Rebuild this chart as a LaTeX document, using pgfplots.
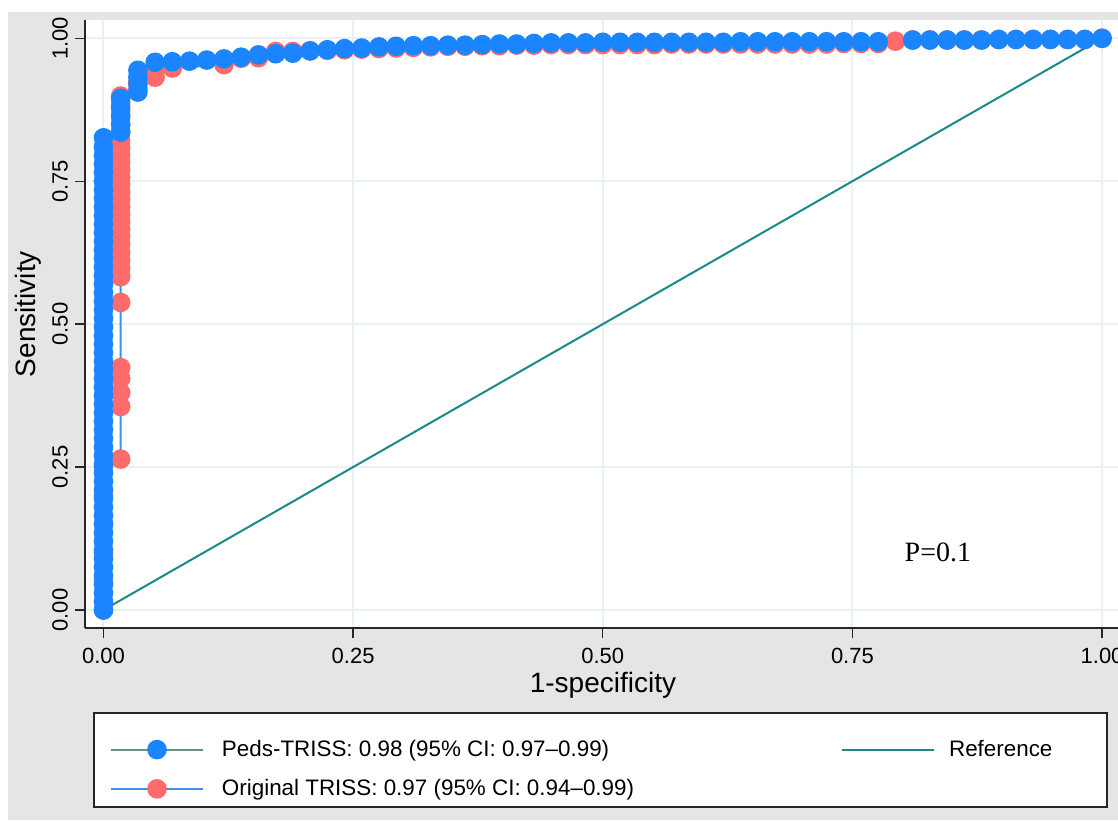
\documentclass[border=0pt]{standalone}
\usepackage{pgfplots}
\pgfplotsset{compat=1.18}
\usepackage{fontspec}
\setmainfont{Liberation Sans}
\newfontfamily\timesfont{Liberation Serif}
\definecolor{bggray}{HTML}{E5E5E5}
\definecolor{gridc}{HTML}{EAF1F3}
\definecolor{bluem}{HTML}{1A85FF}
\definecolor{redm}{HTML}{FF6B6B}
\definecolor{pedsline}{HTML}{6A8E7F}
\definecolor{origline}{HTML}{3A8EF5}
\definecolor{refline}{HTML}{1B8A86}
\definecolor{axc}{HTML}{262626}
\pgfplotsset{
  linemarkimg/.style={legend image code/.code={\draw[mark repeat=2,mark phase=2,##1] plot coordinates {(0pt,0pt) (23pt,0pt) (46pt,0pt)};}},
  lineimg/.style={legend image code/.code={\draw[##1] (0pt,0pt) -- (46pt,0pt);}},
}
\begin{document}
\begin{tikzpicture}
\path[use as bounding box] (0,0) rectangle (559pt,-410pt);
\clip (0,0) rectangle (559pt,-410pt);
\fill[white] (0,0) rectangle (559pt,-410pt);
\fill[bggray] (4pt,-6pt) rectangle (559pt,-410pt);
\fill[white] (42.5pt,-10pt) rectangle (570pt,-314pt);
\draw[fill=white, draw=axc, line width=0.7pt] (47pt,-356.5pt) rectangle (553.5pt,-403.5pt);
\begin{axis}[
  at={(42.5pt,-314pt)}, anchor=south west,
  scale only axis, width=525pt, height=304pt,
  xmin=-0.0185, xmax=1.033, ymin=-0.0315, ymax=1.032,
  axis lines*=left,
  axis line style={draw=axc, line width=0.7pt},
  xtick={0,0.25,0.5,0.75,1}, xticklabels={0.00,0.25,0.50,0.75,1.00},
  ytick={0,0.25,0.5,0.75,1}, yticklabels={0.00,0.25,0.50,0.75,1.00},
  tick align=outside, major tick length=5pt,
  tick style={draw=axc, line width=0.7pt},
  grid=major, major grid style={draw=gridc, line width=1pt},
  ticklabel style={font=\fontsize{11}{13}\selectfont},
  xticklabel style={yshift=-1.5pt},
  yticklabel style={rotate=90, anchor=south},
  xlabel={1-specificity}, ylabel={Sensitivity},
  label style={font=\fontsize{14}{16}\selectfont},
  xlabel style={at={(axis description cs:0.4933,-0.09375)}, anchor=center},
  ylabel style={at={(axis description cs:-0.0543,0.5164)}, anchor=center},
  legend columns=2,
  legend cell align=left,
  legend style={draw=none, fill=none, inner sep=0pt, outer sep=0pt,
    at={(axis description cs:0.0238,-0.1776)}, anchor=north west,
    font=\fontsize{11.2}{13}\selectfont, row sep=6pt,
    /tikz/column 1/.style={column sep=7pt},
    /tikz/column 2/.style={column sep=101.5pt},
    /tikz/column 3/.style={column sep=5pt}},
  clip=false,
]
% Original TRISS (drawn first, under)
\addplot[forget plot, color=origline, line width=1pt, mark=*, mark size=4.4pt,
  mark options={draw=redm, fill=redm}] coordinates {
(0,0) (0,0.05) (0,0.10) (0,0.15) (0,0.20) (0,0.25)
(0.01724,0.264) (0.01724,0.356) (0.01724,0.380) (0.01724,0.405) (0.01724,0.424)
(0.01724,0.538) (0.01724,0.583) (0.01724,0.597) (0.01724,0.611) (0.01724,0.625)
(0.01724,0.640) (0.01724,0.653) (0.01724,0.666) (0.01724,0.679) (0.01724,0.692)
(0.01724,0.705) (0.01724,0.718) (0.01724,0.731) (0.01724,0.744) (0.01724,0.757)
(0.01724,0.770) (0.01724,0.783) (0.01724,0.796) (0.01724,0.809) (0.01724,0.822)
(0.01724,0.835) (0.01724,0.848) (0.01724,0.861) (0.01724,0.874) (0.01724,0.887)
(0.01724,0.899)
(0.03448,0.912) (0.03448,0.925)
(0.05172,0.932) (0.05172,0.945)
(0.06897,0.948)
(0.12069,0.954) (0.13793,0.965) (0.15517,0.966) (0.17241,0.977) (0.18966,0.977)
(0.2069,0.978) (0.22414,0.979) (0.24138,0.980) (0.25862,0.981) (0.27586,0.982)
(0.2931,0.983) (0.31034,0.984) (0.32759,0.985) (0.34483,0.986) (0.36207,0.986)
(0.37931,0.987) (0.39655,0.987) (0.41379,0.988) (0.43103,0.988) (0.44828,0.989)
(0.46552,0.989) (0.48276,0.989) (0.5,0.989) (0.51724,0.989) (0.53448,0.989)
(0.55172,0.989) (0.56897,0.990) (0.58621,0.990) (0.60345,0.990) (0.62069,0.990)
(0.63793,0.990) (0.65517,0.990) (0.67241,0.990) (0.68966,0.990) (0.7069,0.990)
(0.72414,0.990) (0.74138,0.991) (0.75862,0.991) (0.77586,0.991)
(0.7931,0.995)
(0.81034,0.997) (0.82759,0.997) (0.84483,0.997) (0.86207,0.997) (0.87931,0.997)
(0.89655,0.998) (0.91379,0.998) (0.93103,0.998) (0.94828,0.998) (0.96552,0.998)
(0.98276,0.998) (1,1)
};
% Peds-TRISS
\addplot[forget plot, color=pedsline, line width=1pt, mark=*, mark size=4.4pt,
  mark options={draw=bluem, fill=bluem}] coordinates {
(0,0) (0,0.015) (0,0.03) (0,0.045) (0,0.06) (0,0.075) (0,0.09) (0,0.105)
(0,0.12) (0,0.135) (0,0.15) (0,0.165) (0,0.18) (0,0.195) (0,0.21) (0,0.225)
(0,0.24) (0,0.255) (0,0.27) (0,0.285) (0,0.30) (0,0.315) (0,0.33) (0,0.345)
(0,0.36) (0,0.375) (0,0.39) (0,0.405) (0,0.42) (0,0.435) (0,0.45) (0,0.465)
(0,0.48) (0,0.495) (0,0.51) (0,0.525) (0,0.54) (0,0.555) (0,0.57) (0,0.585)
(0,0.60) (0,0.615) (0,0.63) (0,0.645) (0,0.66) (0,0.675) (0,0.69) (0,0.705)
(0,0.72) (0,0.735) (0,0.75) (0,0.765) (0,0.78) (0,0.795) (0,0.81) (0,0.826)
(0.01724,0.836) (0.01724,0.850) (0.01724,0.865) (0.01724,0.880) (0.01724,0.895)
(0.03448,0.906) (0.03448,0.920) (0.03448,0.932) (0.03448,0.944)
(0.05172,0.958) (0.06897,0.959) (0.08621,0.960) (0.10345,0.962) (0.12069,0.964)
(0.13793,0.967) (0.15517,0.971) (0.17241,0.973) (0.18966,0.974) (0.2069,0.978)
(0.22414,0.980) (0.24138,0.982) (0.25862,0.983) (0.27586,0.985) (0.2931,0.986)
(0.31034,0.987) (0.32759,0.987) (0.34483,0.988) (0.36207,0.988) (0.37931,0.989)
(0.39655,0.990) (0.41379,0.990) (0.43103,0.991) (0.44828,0.992) (0.46552,0.992)
(0.48276,0.992) (0.5,0.993) (0.51724,0.993) (0.53448,0.993) (0.55172,0.993)
(0.56897,0.993) (0.58621,0.993) (0.60345,0.993) (0.62069,0.993) (0.63793,0.994)
(0.65517,0.994) (0.67241,0.994) (0.68966,0.994) (0.7069,0.994) (0.72414,0.994)
(0.74138,0.994) (0.75862,0.994) (0.77586,0.994)
(0.81034,0.997) (0.82759,0.997) (0.84483,0.997) (0.86207,0.997) (0.87931,0.997)
(0.89655,0.998) (0.91379,0.998) (0.93103,0.998) (0.94828,0.998) (0.96552,0.998)
(0.98276,0.998) (1,1)
};
% Reference line
\addplot[forget plot, color=refline, line width=1pt] coordinates {(0,0) (1,1)};
% legend entries
\addlegendimage{color=pedsline, line width=1pt, mark=*, mark size=4.4pt,
  mark options={draw=bluem, fill=bluem}, linemarkimg}
\addlegendentry{Peds-TRISS: 0.98 (95\% CI: 0.97–0.99)}
\addlegendimage{color=refline, line width=1pt, lineimg}
\addlegendentry{Reference}
\addlegendimage{color=origline, line width=1pt, mark=*, mark size=4.4pt,
  mark options={draw=redm, fill=redm}, linemarkimg}
\addlegendentry{Original TRISS: 0.97 (95\% CI: 0.94–0.99)}
\node[anchor=west, inner sep=1pt, font=\timesfont\fontsize{14}{16}\selectfont] at (axis cs:0.8,0.1) {P=0.1};
\end{axis}
\end{tikzpicture}
\end{document}
